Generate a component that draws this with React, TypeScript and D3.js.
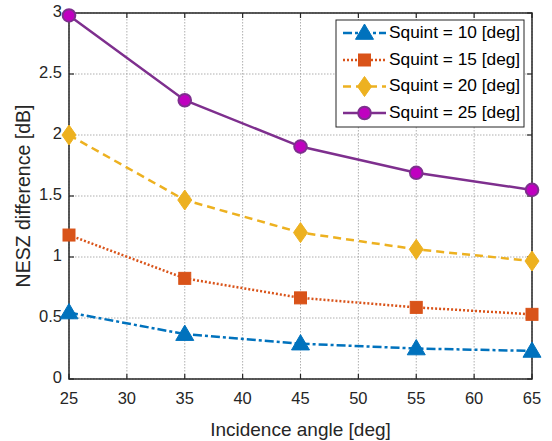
import React from "react";
import * as d3 from "d3";

const incidence = [25, 35, 45, 55, 65];
const squint10 = [0.545, 0.368, 0.29, 0.25, 0.23];
const squint15 = [1.18, 0.825, 0.665, 0.587, 0.53];
const squint20 = [2.0, 1.467, 1.2, 1.063, 0.967];
const squint25 = [2.98, 2.285, 1.905, 1.69, 1.55];
const seriesLabels = ["Squint = 10 [deg]", "Squint = 15 [deg]", "Squint = 20 [deg]", "Squint = 25 [deg]"];
const xTicks = [25, 30, 35, 40, 45, 50, 55, 60, 65];
const yTicks = [0, 0.5, 1, 1.5, 2, 2.5, 3];
const yTickLabels = ["0", "0.5", "1", "1.5", "2", "2.5", "3"];

const W = 552, H = 441;
const L = 69, R = 532, T = 13, B = 379;
const FONT = "'Liberation Sans', Arial, Helvetica, sans-serif";

const styles = [
  { color: "#0072BD", fill: "#0072BD", dash: "9,3,3,3", marker: "tri" },
  { color: "#D95319", fill: "#D95319", dash: "2,2", marker: "sq" },
  { color: "#EDB120", fill: "#EDB120", dash: "8,5", marker: "dia" },
  { color: "#7E2F8E", fill: "#C000C0", dash: "", marker: "circ" },
];

function Marker({ type, x, y, color, fill }: { type: string; x: number; y: number; color: string; fill: string }) {
  if (type === "tri") {
    const s = 9;
    return <path d={`M${x},${y - s} L${x + s},${y + s * 0.7} L${x - s},${y + s * 0.7} Z`} fill={fill} stroke={color} strokeWidth={1} />;
  }
  if (type === "sq") {
    const s = 6;
    return <rect x={x - s} y={y - s} width={2 * s} height={2 * s} fill={fill} stroke={color} strokeWidth={1} />;
  }
  if (type === "dia") {
    return <path d={`M${x},${y - 10} L${x + 7},${y} L${x},${y + 10} L${x - 7},${y} Z`} fill={fill} stroke={color} strokeWidth={1} />;
  }
  return <circle cx={x} cy={y} r={6.3} fill={fill} stroke={color} strokeWidth={2} />;
}

export default function App() {
  const x = d3.scaleLinear().domain([25, 65]).range([L, R]);
  const y = d3.scaleLinear().domain([0, 3]).range([B, T]);
  const data = [squint10, squint15, squint20, squint25];
  const line = d3.line<number>().x((_, i) => x(incidence[i])).y((d) => y(d));

  const legX = 336, legY = 20, legW = 188, legH = 107;
  const rowY = [33, 60, 86.5, 113];

  return (
    <svg width={W} height={H} style={{ position: "absolute", left: 0, top: 0, background: "#fff" }}>
      <rect x={0} y={0} width={W} height={H} fill="#fff" />
      {/* grid */}
      {xTicks.map((t) => (
        <line key={"gx" + t} x1={x(t)} x2={x(t)} y1={T} y2={B} stroke="#9a9a9a" strokeWidth={0.8} strokeDasharray="1.5,1.5" />
      ))}
      {yTicks.map((t) => (
        <line key={"gy" + t} x1={L} x2={R} y1={y(t)} y2={y(t)} stroke="#9a9a9a" strokeWidth={0.8} strokeDasharray="1.5,1.5" />
      ))}
      {/* box */}
      <rect x={L} y={T} width={R - L} height={B - T} fill="none" stroke="#262626" strokeWidth={1.5} />
      {xTicks.map((t) => (
        <g key={"tx" + t}>
          <line x1={x(t)} x2={x(t)} y1={B} y2={B - 5} stroke="#262626" strokeWidth={1.2} />
          <line x1={x(t)} x2={x(t)} y1={T} y2={T + 5} stroke="#262626" strokeWidth={1.2} />
          <text x={x(t)} y={400} textAnchor="middle" dominantBaseline="middle" fontFamily={FONT} fontSize={16.5} fill="#262626">{t}</text>
        </g>
      ))}
      {yTicks.map((t, i) => (
        <g key={"ty" + t}>
          <line x1={L} x2={L + 5} y1={y(t)} y2={y(t)} stroke="#262626" strokeWidth={1.2} />
          <line x1={R} x2={R - 5} y1={y(t)} y2={y(t)} stroke="#262626" strokeWidth={1.2} />
          <text x={62} y={y(t)} textAnchor="end" dominantBaseline="middle" fontFamily={FONT} fontSize={16.5} fill="#262626">{yTickLabels[i]}</text>
        </g>
      ))}
      {/* series */}
      {data.map((s, k) => (
        <g key={"s" + k}>
          <path d={line(s) || ""} fill="none" stroke={styles[k].color} strokeWidth={2.5} strokeDasharray={styles[k].dash} />
          {s.map((v, i) => (
            <Marker key={i} type={styles[k].marker} x={x(incidence[i])} y={y(v)} color={styles[k].color} fill={styles[k].fill} />
          ))}
        </g>
      ))}
      {/* axis labels */}
      <text x={(L + R) / 2} y={436} textAnchor="middle" fontFamily={FONT} fontSize={19} fill="#262626">Incidence angle [deg]</text>
      <text transform={`translate(25,${(T + B) / 2}) rotate(-90)`} textAnchor="middle" dominantBaseline="middle" fontFamily={FONT} fontSize={19.5} fill="#262626">NESZ difference [dB]</text>
      {/* legend */}
      <rect x={legX} y={legY} width={legW} height={legH} fill="#fff" stroke="#262626" strokeWidth={1} />
      {seriesLabels.map((lab, k) => (
        <g key={"l" + k}>
          <line x1={343} x2={386} y1={rowY[k]} y2={rowY[k]} stroke={styles[k].color} strokeWidth={2.5} strokeDasharray={styles[k].dash} />
          <Marker type={styles[k].marker} x={364.5} y={rowY[k]} color={styles[k].color} fill={styles[k].fill} />
          <text x={389} y={rowY[k]} dominantBaseline="middle" fontFamily={FONT} fontSize={17.3} fill="#000">{lab}</text>
        </g>
      ))}
    </svg>
  );
}
